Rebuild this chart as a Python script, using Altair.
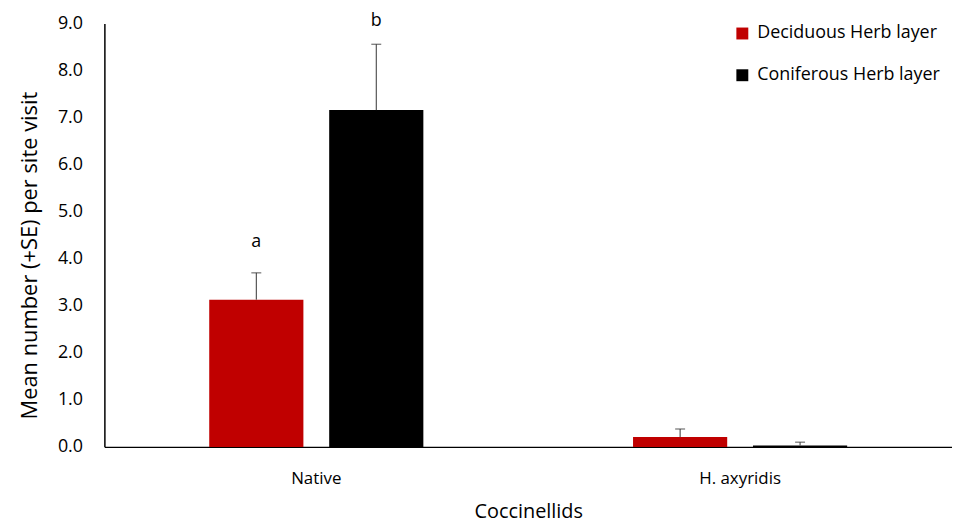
import altair as alt
import pandas as pd

groups = ["Native", "Native", "H. axyridis", "H. axyridis"]
series = ["Deciduous Herb layer", "Coniferous Herb layer",
          "Deciduous Herb layer", "Coniferous Herb layer"]
means = [3.13, 7.16, 0.21, 0.03]
ses = [0.57, 1.40, 0.17, 0.07]

letter_groups = ["Native", "Native"]
letter_series = ["Deciduous Herb layer", "Coniferous Herb layer"]
letters = ["a", "b"]
letter_y = [4.35, 9.05]

group_order = ["Native", "H. axyridis"]
series_order = ["Deciduous Herb layer", "Coniferous Herb layer"]
colors = ["#C00000", "#000000"]
y_ticks = [0, 1, 2, 3, 4, 5, 6, 7, 8, 9]

df = pd.DataFrame({"group": groups, "series": series, "mean": means, "se": ses})
df["upper"] = df["mean"] + df["se"]
lab = pd.DataFrame({"group": letter_groups, "series": letter_series,
                    "letter": letters, "ly": letter_y})

FONT = "Open Sans"

x_enc = alt.X("group:N", sort=group_order,
              scale=alt.Scale(paddingInner=0, paddingOuter=0),
              axis=alt.Axis(title="Coccinellids", labelAngle=0, ticks=False,
                            labelFontSize=17, labelPadding=24, titleFontSize=20,
                            titlePadding=15, titleFontWeight="normal",
                            domainColor="#000000", domainWidth=1.5,
                            labelColor="#000000", titleColor="#000000"))
xoff = alt.XOffset("series:N", sort=series_order,
                   scale=alt.Scale(paddingInner=0.215, paddingOuter=0.874))
y_scale = alt.Scale(domain=[0, 9], nice=False)

bars = alt.Chart(df).mark_bar().encode(
    x=x_enc,
    xOffset=xoff,
    y=alt.Y("mean:Q", scale=y_scale,
            axis=alt.Axis(title="Mean number (+SE) per site visit", values=y_ticks,
                          format=".1f", grid=False, ticks=False, labelFontSize=18,
                          labelPadding=22, titleFontSize=22, titlePadding=16,
                          titleY=233, titleFontWeight="normal",
                          domainColor="#000000", domainWidth=1.5,
                          labelColor="#000000", titleColor="#000000")),
    color=alt.Color("series:N", sort=series_order,
                    scale=alt.Scale(domain=series_order, range=colors),
                    legend=alt.Legend(title=None, orient="none", legendX=633,
                                      legendY=1, symbolType="square",
                                      symbolSize=144, symbolStrokeWidth=0,
                                      labelFontSize=18, rowPadding=24,
                                      labelLimit=300, labelOffset=6,
                                      labelColor="#000000")),
)

err = alt.Chart(df).mark_rule(color="#333333", strokeWidth=1).encode(
    x=alt.X("group:N", sort=group_order),
    xOffset=xoff,
    y="mean:Q",
    y2="upper:Q",
)

caps = alt.Chart(df).mark_tick(color="#333333", thickness=1.2, size=10,
                               orient="horizontal").encode(
    x=alt.X("group:N", sort=group_order),
    xOffset=xoff,
    y="upper:Q",
)

letters_layer = alt.Chart(lab).mark_text(fontSize=18, baseline="middle",
                                         color="#000000", font=FONT).encode(
    x=alt.X("group:N", sort=group_order),
    xOffset=xoff,
    y=alt.Y("ly:Q", scale=y_scale),
    text="letter:N",
)

chart = alt.layer(bars, err, caps, letters_layer).properties(
    width=853, height=426,
    autosize=alt.AutoSizeParams(type="none"),
    padding={"left": 97, "top": 14, "right": 0, "bottom": 84},
).configure(font=FONT).configure_view(stroke=None).configure_axis(
    labelFont=FONT, titleFont=FONT
).configure_legend(labelFont=FONT)

chart.save("out.html", embed_options={"renderer": "svg", "actions": False})
